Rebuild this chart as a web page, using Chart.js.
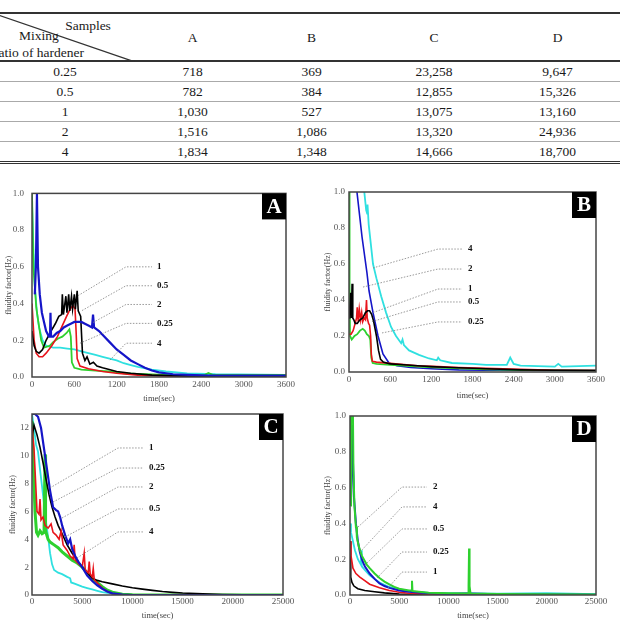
<!DOCTYPE html>
<html><head><meta charset="utf-8">
<script src="https://cdn.jsdelivr.net/npm/chart.js@4.4.1/dist/chart.umd.min.js"></script>
<style>
html,body{margin:0;padding:0;background:#fff;width:620px;height:624px;overflow:hidden;position:relative;}
#tbl{position:absolute;left:-5px;top:12px;width:625px;border-collapse:collapse;table-layout:fixed;font-family:"Liberation Serif","Times New Roman",serif;font-size:13.5px;color:#1a1a1a;}
#tbl td{padding:0;text-align:center;height:19px;line-height:19px;border-bottom:1px solid #aaa;white-space:nowrap;}
#tbl tr.h td{height:46px;border-top:2px solid #333;border-bottom:2px solid #333;}
#tbl tr.last td{border-bottom:3px double #333;}
#tbl td.hd{position:relative;}
#tbl td.hd span{position:absolute;transform:translate(-50%,-50%);line-height:1;}
#tbl td.hd svg{position:absolute;left:0;top:0;}
canvas{position:absolute;}
</style></head>
<body>
<table id="tbl">
<colgroup><col style="width:140px"><col style="width:115px"><col style="width:123px"><col style="width:122px"><col style="width:125px"></colgroup>
<tbody id="tb"></tbody>
</table>
<canvas id="cA" width="300" height="226" style="left:0;top:180px"></canvas>
<canvas id="cB" width="292" height="222" style="left:318px;top:180px"></canvas>
<canvas id="cC" width="300" height="220" style="left:0;top:404px"></canvas>
<canvas id="cD" width="292" height="220" style="left:318px;top:404px"></canvas>
<script>
// ---------- table data ----------
const samples = ['A','B','C','D'];
const ratios = ['0.25','0.5','1','2','4'];
const potLifeA = ['718','782','1,030','1,516','1,834'];
const potLifeB = ['369','384','527','1,086','1,348'];
const potLifeC = ['23,258','12,855','13,075','13,320','14,666'];
const potLifeD = ['9,647','15,326','13,160','24,936','18,700'];

// ---------- chart tick labels / titles ----------
const xTitle = 'time(sec)';
const yTitle = 'fluidity factor(Hz)';

// ---------- panel A series [time, fluidity] ----------
const A_r1 = [[0,0.25],[30,0.17],[60,0.14],[100,0.13],[150,0.15],[200,0.2],[270,0.25],[330,0.29],[380,0.33],[420,0.34],[430,0.45],[445,0.34],[480,0.44],[495,0.35],[520,0.45],[535,0.36],[560,0.44],[575,0.37],[600,0.45],[615,0.37],[640,0.47],[655,0.36],[690,0.33],[715,0.13],[750,0.09],[780,0.11],[820,0.07],[870,0.08],[920,0.06],[1000,0.05],[1200,0.03],[1400,0.02],[1700,0.01],[2200,0.005],[3600,0.004]];
const A_r05 = [[0,0.4],[30,0.2],[60,0.13],[100,0.11],[150,0.11],[200,0.13],[280,0.17],[360,0.22],[430,0.28],[490,0.33],[540,0.37],[580,0.39],[610,0.37],[625,0.25],[640,0.1],[680,0.06],[800,0.045],[1000,0.03],[1200,0.02],[1500,0.01],[2000,0.005],[3600,0.003]];
const A_r025 = [[0,1.0],[20,0.6],[60,0.38],[90,0.3],[130,0.2],[170,0.16],[250,0.17],[300,0.19],[370,0.21],[430,0.22],[490,0.24],[530,0.26],[550,0.22],[565,0.08],[600,0.05],[700,0.04],[900,0.035],[1100,0.03],[1300,0.02],[1600,0.015],[2000,0.01],[2450,0.012],[2500,0.022],[2560,0.012],[3000,0.012],[3600,0.012]];
const A_r2 = [[40,0.45],[55,0.6],[70,1.0],[85,0.6],[110,0.45],[140,0.35],[170,0.3],[200,0.25],[240,0.22],[255,0.22],[262,0.35],[270,0.22],[300,0.22],[350,0.24],[400,0.25],[450,0.27],[500,0.28],[550,0.29],[600,0.3],[650,0.3],[700,0.3],[750,0.29],[800,0.28],[850,0.27],[865,0.34],[880,0.27],[950,0.25],[1000,0.23],[1100,0.19],[1200,0.15],[1300,0.12],[1400,0.09],[1500,0.07],[1600,0.05],[1700,0.035],[1800,0.025],[2000,0.015],[2500,0.008],[3600,0.008]];
const A_r4 = [[0,0.95],[20,0.7],[40,0.5],[70,0.35],[100,0.27],[150,0.2],[200,0.17],[300,0.16],[400,0.16],[500,0.155],[600,0.15],[700,0.14],[800,0.13],[900,0.12],[1000,0.11],[1100,0.1],[1200,0.09],[1300,0.075],[1400,0.065],[1500,0.055],[1700,0.04],[1900,0.03],[2200,0.02],[2600,0.015],[3600,0.012]];

// ---------- panel B series ----------
const B_r1 = [[0,0.3],[10,0.35],[25,0.44],[35,0.3],[45,0.49],[55,0.3],[70,0.29],[90,0.27],[120,0.27],[160,0.29],[200,0.3],[240,0.33],[270,0.34],[300,0.34],[330,0.32],[360,0.28],[400,0.2],[430,0.12],[460,0.07],[500,0.055],[600,0.045],[800,0.04],[1000,0.035],[1200,0.03],[1500,0.025],[2000,0.018],[2500,0.012],[3000,0.01],[3600,0.008]];
const B_r05 = [[0,0.21],[30,0.21],[60,0.23],[90,0.27],[110,0.3],[120,0.36],[135,0.28],[150,0.35],[170,0.29],[185,0.33],[200,0.28],[220,0.3],[240,0.29],[255,0.4],[265,0.3],[285,0.27],[300,0.26],[315,0.2],[325,0.1],[340,0.06],[400,0.055],[600,0.048],[800,0.042],[1000,0.035],[1300,0.03],[1600,0.025],[2000,0.02],[2500,0.015],[3000,0.01],[3600,0.008]];
const B_r025 = [[0,1.0],[8,0.5],[15,0.2],[40,0.18],[80,0.2],[120,0.21],[160,0.23],[200,0.24],[230,0.23],[260,0.21],[290,0.2],[310,0.18],[325,0.08],[345,0.05],[400,0.045],[600,0.04],[800,0.035],[1000,0.03],[1300,0.025],[1600,0.02],[2000,0.015],[2600,0.01],[3600,0.008]];
const B_r2 = [[116,1.0],[190,0.75],[262,0.55],[292,0.45],[350,0.33],[423,0.2],[495,0.1],[583,0.05],[700,0.035],[900,0.025],[1200,0.018],[1600,0.012],[2000,0.01],[3600,0.008]];
const B_r4 = [[223,1.0],[250,0.9],[265,0.88],[270,0.93],[287,0.82],[350,0.6],[400,0.52],[470,0.42],[540,0.33],[613,0.25],[685,0.2],[760,0.16],[780,0.18],[800,0.15],[875,0.12],[1020,0.095],[1166,0.075],[1280,0.065],[1300,0.08],[1330,0.065],[1500,0.05],[1800,0.045],[2000,0.04],[2300,0.04],[2350,0.08],[2400,0.045],[2500,0.035],[3000,0.03],[3050,0.045],[3100,0.03],[3600,0.035]];

// ---------- panel C series ----------
const C_r1 = [[0,11.3],[200,12.2],[500,11.5],[800,10.6],[1100,9.5],[1400,8.3],[1700,7.2],[2000,6.3],[2300,5.6],[2600,5.0],[3000,4.4],[3500,3.6],[4000,3.0],[4500,2.5],[5000,2.0],[5500,1.6],[6000,1.2],[6500,1.05],[7000,0.95],[8000,0.8],[9000,0.65],[10000,0.52],[11000,0.42],[12000,0.33],[13000,0.25],[14000,0.19],[15000,0.14],[17000,0.08],[19000,0.04],[21000,0.02],[23000,0.01],[25000,0.005]];
const C_r05 = [[0,12],[200,10.5],[400,7.5],[500,6.0],[700,5.8],[800,6.9],[900,5.4],[1100,5.6],[1300,5.0],[1600,4.8],[1900,5.1],[2100,4.5],[2400,4.3],[2700,4.0],[2900,4.6],[3100,3.6],[3500,3.2],[3800,2.8],[4100,2.6],[4200,3.6],[4300,2.5],[4700,2.2],[5000,2.0],[5200,3.0],[5300,1.8],[5600,1.6],[5700,2.4],[5800,1.5],[6000,1.3],[6100,1.9],[6200,1.1],[6600,0.8],[7000,0.5],[7500,0.25],[8000,0.1],[9000,0.02],[10000,0]];
const C_r025 = [[0,12.5],[150,9],[300,6],[450,4.5],[600,4.3],[800,4.6],[1000,4.4],[1200,4.5],[1300,10.1],[1350,4.6],[1600,4.0],[1800,3.8],[2200,3.6],[2600,3.4],[3000,3.1],[3500,2.8],[4000,2.5],[4500,2.3],[5000,2.0],[5500,1.6],[6000,1.2],[6500,0.9],[7000,0.6],[7500,0.35],[8000,0.2],[9000,0.05],[10000,0.01],[25000,0]];
const C_r2 = [[0,13],[300,13],[600,12.8],[900,12],[1200,10.5],[1500,9],[1800,7.5],[2100,6.3],[2400,6.1],[2600,6.0],[2800,5.6],[3000,5.0],[3300,4.3],[3600,3.7],[3800,4.0],[4000,3.3],[4300,2.8],[4600,2.4],[5000,2.0],[5500,1.4],[6000,1.0],[6500,0.7],[7000,0.45],[7500,0.25],[8000,0.12],[9000,0.03],[10000,0],[25000,0]];
const C_r4 = [[0,13],[200,12],[400,10.8],[600,10.3],[800,9],[1000,7.8],[1200,6.5],[1400,5.2],[1600,4.2],[1800,3.0],[2000,2.2],[2200,1.8],[2600,1.6],[3000,1.5],[3500,1.3],[3800,1.2],[3900,0.9],[4300,0.8],[5000,0.6],[5500,0.5],[6000,0.4],[6500,0.3],[7000,0.2],[8000,0.1],[9000,0.04],[10000,0.01],[12000,0],[25000,0]];

// ---------- panel D series ----------
const D_r1 = [[0,0.3],[50,0.15],[100,0.1],[200,0.07],[400,0.05],[800,0.035],[1500,0.025],[2500,0.018],[3500,0.012],[5000,0.005],[7000,0.002],[25000,0.001]];
const D_r05 = [[0,0.3],[100,0.22],[300,0.15],[600,0.12],[1000,0.1],[1500,0.08],[2000,0.06],[3000,0.04],[4000,0.025],[5000,0.015],[6000,0.01],[8000,0.005],[10000,0.002],[25000,0.001]];
const D_r025 = [[50,0.5],[100,1.0],[300,1.0],[350,0.7],[450,0.5],[600,0.38],[650,0.38],[700,0.32],[900,0.27],[1200,0.22],[1500,0.19],[1700,0.17],[2000,0.15],[2500,0.12],[3000,0.095],[3500,0.075],[4000,0.06],[4500,0.045],[5000,0.035],[6000,0.025],[6250,0.025],[6300,0.08],[6350,0.022],[7000,0.018],[8000,0.013],[10000,0.01],[12000,0.008],[12050,0.05],[12100,0.26],[12150,0.05],[12250,0.008],[15000,0.006],[20000,0.004],[25000,0.003]];
const D_r2 = [[100,0.5],[200,0.95],[300,0.75],[400,0.55],[600,0.4],[800,0.3],[1000,0.24],[1200,0.2],[1500,0.16],[2000,0.12],[2500,0.09],[3000,0.065],[3500,0.05],[4000,0.04],[5000,0.025],[6000,0.018],[8000,0.01],[10000,0.005],[12000,0.008],[15000,0.004],[25000,0.002]];
const D_r4 = [[0,0.4],[100,0.35],[300,0.3],[500,0.25],[800,0.2],[1100,0.17],[1150,0.25],[1200,0.16],[1500,0.14],[2000,0.11],[2500,0.09],[3000,0.07],[4000,0.045],[5000,0.03],[6000,0.02],[8000,0.012],[10000,0.01],[15000,0.008],[20000,0.01],[25000,0.005]];

// ---------- leader-line annotations (data coordinates) ----------
const A_tags = ['1','0.5','2','0.25','4'];
const A_tagFrom = [[652,0.443],[709,0.362],[865,0.297],[680,0.184],[1105,0.092]];
const A_tagLevel = [0.60,0.497,0.395,0.292,0.184];
const B_tags = ['4','2','1','0.5','0.25'];
const B_tagFrom = [[350,0.578],[204,0.472],[350,0.33],[335,0.28],[481,0.217]];
const B_tagLevel = [0.683,0.572,0.461,0.389,0.278];
const C_tags = ['1','0.25','2','0.5','4'];
const C_tagFrom = [[1793,7.69],[2092,6.68],[2988,5.53],[3287,4.17],[4482,2.66]];
const C_tagLevel = [10.56,9.12,7.76,6.18,4.53];
const D_tags = ['2','4','0.5','0.25','1'];
const D_tagFrom = [[813,0.38],[1016,0.24],[1524,0.168],[2744,0.095],[3862,0.039]];
const D_tagLevel = [0.603,0.492,0.369,0.240,0.128];

// ---------- build table ----------
const SERIF = '"Liberation Serif","Times New Roman",serif';
const tb = document.getElementById('tb');
const hr = document.createElement('tr'); hr.className = 'h';
const hc = document.createElement('td'); hc.className = 'hd';
hc.innerHTML = '<svg width="140" height="48"><line x1="0" y1="0" x2="140" y2="48" stroke="#333" stroke-width="1.2"/></svg>' +
  '<span style="left:93px;top:12px">Samples</span>' +
  '<span style="left:44px;top:22px">Mixing</span>' +
  '<span style="left:44px;top:39px">ratio of hardener</span>';
hr.appendChild(hc);
samples.forEach(s => { const td = document.createElement('td'); td.textContent = s; hr.appendChild(td); });
tb.appendChild(hr);
ratios.forEach((r, i) => {
  const tr = document.createElement('tr');
  if (i === ratios.length - 1) tr.className = 'last';
  [r, potLifeA[i], potLifeB[i], potLifeC[i], potLifeD[i]].forEach(v => {
    const td = document.createElement('td'); td.textContent = v; tr.appendChild(td);
  });
  tb.appendChild(tr);
});

// ---------- charts ----------
const COL = {r025:'#2ed12e', r05:'#e8141b', r1:'#000000', r2:'#1515c8', r4:'#2fe0e0'};
const pts = a => a.map(p => ({x:p[0], y:p[1]}));

const decor = {
  id:'decor',
  afterDatasetsDraw(chart, args, o){
    const {ctx, chartArea:a, scales:{x, y}} = chart;
    ctx.save();
    ctx.strokeStyle = '#808080'; ctx.lineWidth = 0.8; ctx.setLineDash([1.5, 1.5]);
    o.tags.forEach((t, i) => {
      const ky = y.getPixelForValue(o.levels[i]);
      ctx.beginPath();
      ctx.moveTo(x.getPixelForValue(o.from[i][0]), y.getPixelForValue(o.from[i][1]));
      ctx.lineTo(x.getPixelForValue(o.kneeX), ky);
      ctx.lineTo(x.getPixelForValue(o.endX), ky);
      ctx.stroke();
    });
    ctx.setLineDash([]);
    ctx.fillStyle = '#111'; ctx.font = 'bold 9px ' + SERIF; ctx.textBaseline = 'middle'; ctx.textAlign = 'left';
    o.tags.forEach((t, i) => ctx.fillText(t, x.getPixelForValue(o.textX), y.getPixelForValue(o.levels[i])));
    ctx.strokeStyle = '#444'; ctx.lineWidth = 1.5;
    ctx.strokeRect(a.left, a.top, a.right - a.left, a.bottom - a.top);
    ctx.fillStyle = '#000'; ctx.fillRect(a.right - 24, a.top, 24, 26);
    ctx.fillStyle = '#fff'; ctx.font = 'bold 21px ' + SERIF; ctx.textAlign = 'center';
    ctx.fillText(o.letter, a.right - 12, a.top + 14);
    ctx.restore();
  }
};

function makeChart(id, series, order, p){
  const datasets = order.map(k => ({
    data: pts(series[k]), borderColor: COL[k], borderWidth: p.widths[k] || 1.6,
    pointRadius: 0, tension: 0, fill: false
  }));
  return new Chart(document.getElementById(id), {
    type: 'line',
    data: { datasets },
    plugins: [decor],
    options: {
      responsive: false, animation: false, parsing: true,
      layout: { padding: { top: p.padTop, right: p.padRight, left: 0, bottom: 0 } },
      plugins: { legend: {display:false}, tooltip: {enabled:false},
        decor: { tags: p.tags, from: p.from, levels: p.levels, kneeX: p.kneeX, endX: p.endX, textX: p.textX, letter: p.letter } },
      scales: {
        x: { type:'linear', min:0, max:p.xmax,
          grid:{display:false, drawTicks:false}, border:{display:false},
          ticks:{stepSize:p.xstep, padding:p.xPad, color:'#555', font:{family:SERIF, size:9}, maxRotation:0, autoSkip:false, callback:v => String(v)},
          title:{display:true, text:xTitle, color:'#444', font:{family:SERIF, size:8.5}, padding:{top:0, bottom:p.xTitlePad}},
          afterFit: s => { s.height = p.xH; } },
        y: { type:'linear', min:0, max:p.ymax,
          grid:{display:false, drawTicks:false}, border:{display:false},
          ticks:{stepSize:p.ystep, includeBounds:false, padding:p.yPad, color:'#555', font:{family:SERIF, size:9}, callback:p.yfmt},
          title:{display:true, text:yTitle, color:'#444', font:{family:SERIF, size:8}, padding:{top:p.yTitlePad, bottom:0}},
          afterFit: s => { s.width = p.yW; } }
      }
    }
  });
}

const f1 = v => v.toFixed(1);
makeChart('cA', {r1:A_r1, r05:A_r05, r025:A_r025, r2:A_r2, r4:A_r4}, ['r2','r1','r05','r025','r4'], {
  widths:{r2:2.2, r4:1.8, r025:1.8}, padTop:12, padRight:14, xmax:3600, xstep:600, ymax:1, ystep:0.2, yfmt:f1,
  xPad:2, xTitlePad:2, xH:29, yPad:8, yTitlePad:4, yW:32,
  tags:A_tags, from:A_tagFrom, levels:A_tagLevel, kneeX:1332, endX:1701, textX:1772, letter:'A'});
makeChart('cB', {r1:B_r1, r05:B_r05, r025:B_r025, r2:B_r2, r4:B_r4}, ['r1','r05','r025','r2','r4'], {
  widths:{r2:1.6, r4:1.8, r025:1.8}, padTop:12, padRight:14, xmax:3600, xstep:600, ymax:1, ystep:0.2, yfmt:f1,
  xPad:2.6, xTitlePad:1, xH:30, yPad:4, yTitlePad:5, yW:31,
  tags:B_tags, from:B_tagFrom, levels:B_tagLevel, kneeX:1297, endX:1647, textX:1734, letter:'B'});
makeChart('cC', {r1:C_r1, r05:C_r05, r025:C_r025, r2:C_r2, r4:C_r4}, ['r2','r05','r1','r025','r4'], {
  widths:{r2:2.2, r025:3, r4:1.8}, padTop:10, padRight:17, xmax:25000, xstep:5000, ymax:13, ystep:2, yfmt:v => String(v),
  xPad:1.6, xTitlePad:3, xH:29, yPad:3, yTitlePad:8, yW:32,
  tags:C_tags, from:C_tagFrom, levels:C_tagLevel, kneeX:8566, endX:11056, textX:11653, letter:'C'});
makeChart('cD', {r1:D_r1, r05:D_r05, r025:D_r025, r2:D_r2, r4:D_r4}, ['r025','r2','r4','r05','r1'], {
  widths:{r025:2, r2:2, r4:1.8}, padTop:12, padRight:14, xmax:25000, xstep:5000, ymax:1, ystep:0.2, yfmt:f1,
  xPad:1.6, xTitlePad:3, xH:29, yPad:4, yTitlePad:5, yW:32,
  tags:D_tags, from:D_tagFrom, levels:D_tagLevel, kneeX:5285, endX:7825, textX:8435, letter:'D'});
</script>
</body></html>
